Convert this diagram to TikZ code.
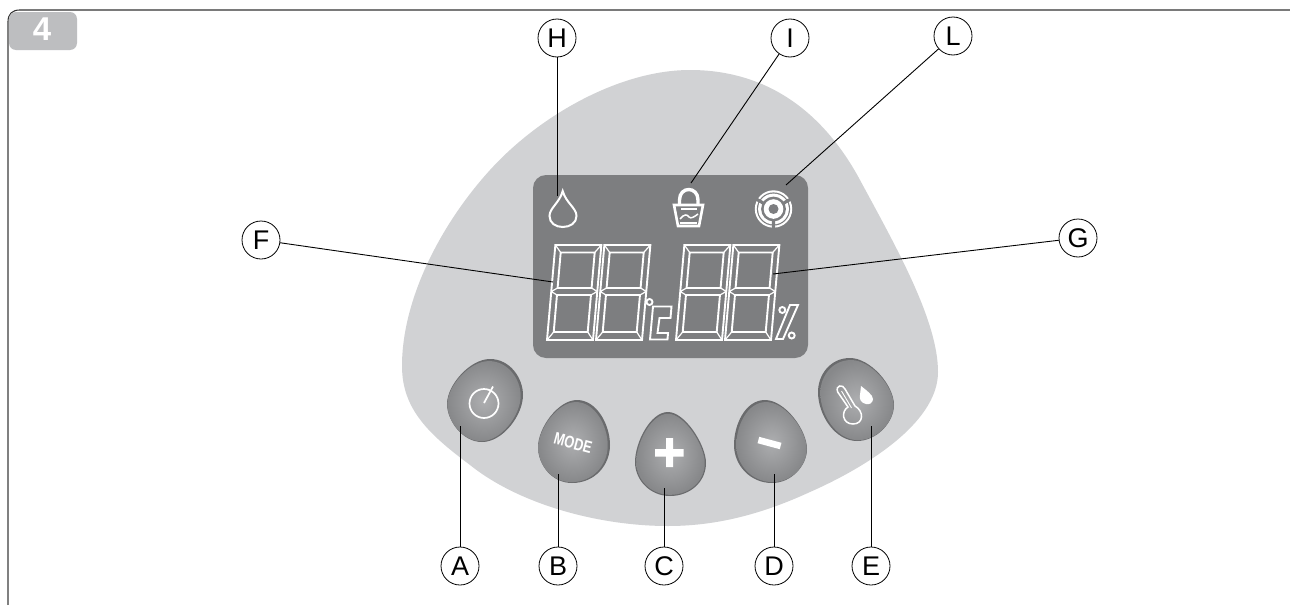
\documentclass[tikz,border=0pt]{standalone}
\usepackage{fontspec}
\setmainfont{Liberation Sans}
\newfontfamily\modefont[FakeStretch=0.76]{Liberation Sans}
\usetikzlibrary{calc}
\definecolor{panel}{HTML}{D1D2D4}
\definecolor{lcd}{HTML}{7D7E80}
\definecolor{tab}{HTML}{BDBEC0}
\definecolor{btnA}{HTML}{ADAEB0}
\definecolor{btnB}{HTML}{87888A}
\definecolor{btnS}{HTML}{6A6B6D}
\tikzset{
  x=1pt,y=-1pt,
  letter/.style={circle,draw=black,line width=0.8pt,fill=white,minimum size=38pt,inner sep=0pt,font=\fontsize{27}{27}\selectfont},
  leader/.style={draw=black,line width=0.9pt},
  seg/.style={draw=white,line width=1.9pt,line join=miter},
  icon/.style={draw=white,line width=2pt},
}
% #1 centre, #2 offset of the lit face, #3 outline
\newcommand{\btn}[3]{%
  \path[fill=btnS] #3 -- cycle;
  \begin{scope}[shift={(#2)},shift={(#1)},scale=.965,shift={($(0,0)-(#1)$)}]
    \path[shading=radial,inner color=btnA,outer color=btnB] #3 -- cycle;
  \end{scope}}
\newcommand{\digit}[2]{%
  \begin{scope}[shift={(#1,#2)},cm={1,0,0.088,1,(0,0)}]
    \draw[seg] (0,0) rectangle (46,-95);
    \draw[seg] (6,-87.5) rectangle (40,-52);
    \draw[seg] (6,-45) rectangle (40,-8);
    \draw[seg,line width=1.2pt] (0,-95) -- (6,-87.5) (46,-95) -- (40,-87.5) (0,0) -- (6,-8) (46,0) -- (40,-8);
    \draw[seg,line width=1.2pt] (0,-48.5) -- (6,-52) (46,-48.5) -- (40,-52) (0,-48.5) -- (6,-45) (46,-48.5) -- (40,-45);
  \end{scope}}
\begin{document}
\begin{tikzpicture}
\useasboundingbox (0,0) rectangle (1290,605);
\fill[white] (0,0) rectangle (1290,605);
% frame
\draw[line width=1.1pt,draw=black!80] (8,22) .. controls (8,14) and (12,10) .. (20,10) -- (1290,10);
\draw[line width=1.4pt,draw=black!50] (8,605) -- (8,22);
\fill[tab,rounded corners=7pt] (9,12) rectangle (77,50);
\node[font=\bfseries\fontsize{33}{33}\selectfont,text=white] (tabno) at (42,29) {4};
% panel
\fill[panel] (402,366) .. controls (402,300) and (440,225) .. (490,170)
  .. controls (540,115) and (620,70) .. (690,70)
  .. controls (770,70) and (825,115) .. (860,180)
  .. controls (895,245) and (938,320) .. (938,372)
  .. controls (938,425) and (860,470) .. (810,492)
  .. controls (760,515) and (715,526) .. (668,526)
  .. controls (600,526) and (520,505) .. (470,465)
  .. controls (430,435) and (402,410) .. (402,366) -- cycle;
% lcd
\fill[lcd,rounded corners=13pt] (533,175) rectangle (808,358);
% coordinates for leaders
\coordinate (pH) at (557,196);
\coordinate (pI) at (691,183);
\coordinate (pL) at (786,185);
\coordinate (pF) at (553,282);
\coordinate (pG) at (773,274);
\coordinate (pA) at (460,426);
\coordinate (pB) at (558,474);
\coordinate (pC) at (664,488);
\coordinate (pD) at (774,474);
\coordinate (pE) at (871,426);
% digits
\digit{547}{340}
\digit{596}{340}
\digit{676}{340}
\digit{725}{340}
% deg C
\draw[seg] (649.5,302) circle (3);
\draw[seg] (653,306.5) -- (671.5,306.5) -- (670.5,318) -- (659.5,318) -- (657.5,333) -- (668,333) -- (667.5,339.5) -- (650,339.5) -- cycle;
% percent
\draw[seg] (790,305) -- (798,305) -- (783,339) -- (776,339) -- cycle;
\draw[seg] (782.3,310) circle (3);
\draw[seg] (791.7,335.5) circle (3);
% drop
\draw[icon] (562.7,191) .. controls (566,203) and (576.5,208) .. (576.5,216) .. controls (576.5,223) and (570,227) .. (562.7,227) .. controls (555.5,227) and (549.5,223) .. (549.5,216) .. controls (549.5,208) and (559.5,203) .. (562.7,191) -- cycle;
% lock bucket
\draw[icon,line width=3.4pt] (679.5,204) -- (679.5,200) .. controls (679.5,186) and (698,186) .. (698,200) -- (698,204);
\draw[icon,line width=2.6pt] (674,205) -- (703,205) -- (699,226) -- (678,226) -- cycle;
\draw[icon,line width=1.5pt] (681,209) -- (697,209);
\draw[icon,line width=1.5pt] (680,219) .. controls (684,214) and (687,214) .. (689,217) .. controls (691,219) and (694,217) .. (698,214);
\draw[icon,line width=1.5pt] (680,223) -- (697,223);
% fan icon
\begin{scope}[shift={(773.5,209)}]
  \fill[white] (0,0) circle (18.7);
  \fill[lcd] (0,0) circle (16.6);
  \fill[white] (0,0) circle (15.4);
  \fill[lcd] (0,0) circle (12.4);
  \fill[white] (0,0) circle (9.8);
  \fill[lcd] (0,0) circle (5);
  \foreach \a in {90,210,330} {
    \fill[lcd] (\a:10.6) -- ++(\a+90:1.6) -- ++(\a:10) -- ++(\a-90:3.2) -- ++(\a+180:10) -- cycle;
  }
\end{scope}
% buttons
\btn{485,401}{-1,.6}{(490,359) .. controls (510,359) and (523,378) .. (523,395) .. controls (523,415) and (503,442) .. (482,442) .. controls (462,442) and (447,420) .. (447,404) .. controls (447,385) and (470,359) .. (490,359)}
\btn{574,441}{-1,.6}{(577,400) .. controls (597,400) and (610,425) .. (610,445) .. controls (610,465) and (595,483) .. (572,483) .. controls (552,483) and (538,465) .. (538,447) .. controls (538,428) and (558,400) .. (577,400)}
\btn{670,454}{0,.3}{(668,412) .. controls (685,412) and (706,445) .. (706,463) .. controls (706,482) and (690,496) .. (670,496) .. controls (650,496) and (635,480) .. (635,462) .. controls (635,443) and (650,412) .. (668,412)}
\btn{771,441}{1,.6}{(765,400) .. controls (745,400) and (734,425) .. (734,445) .. controls (734,465) and (750,483) .. (772,483) .. controls (792,483) and (807,465) .. (807,449) .. controls (807,430) and (785,400) .. (765,400)}
\btn{856,399}{1,.6}{(850,358) .. controls (830,358) and (818,375) .. (818,392) .. controls (818,415) and (835,441) .. (857,441) .. controls (877,441) and (894,422) .. (894,405) .. controls (894,385) and (870,358) .. (850,358)}
% button glyphs
\draw[white,line width=1.7pt] (484,403.5) circle (14.5);
\draw[white,line width=1.7pt] (484,403) -- (493,386.5);
\node[text=white,rotate=-15,font=\modefont\bfseries\fontsize{17}{17}\selectfont] (mode) at (573,443) {MODE};
\fill[white] (655,449) rectangle (683.5,456.5) (666,438) rectangle (673,467);
\fill[white,rotate around={-15:(769.5,443)}] (758,439.7) rectangle (781,446.3);
% thermometer and droplet
\draw[white,line width=1.5pt] (848,407) -- (837.7,392) .. controls (835,385) and (843,384) .. (845,389) -- (855,406) .. controls (864,411) and (864,424) .. (853,424) .. controls (842,424) and (841,411) .. (848,407) -- cycle;
\draw[white,line width=.9pt] (841.5,391) -- (851.5,408);
\fill[white] (861,386) .. controls (866,390) and (873,395) .. (873,399) .. controls (873,403) and (869,405) .. (866,404) .. controls (861,403) and (859,399) .. (860,395) -- cycle;
% letters
\node[letter] (H) at (557,38) {H};
\node[letter] (I) at (790,38) {I};
\node[letter] (L) at (953,36) {L};
\node[letter] (F) at (261,240) {F};
\node[letter] (G) at (1078,238) {G};
\node[letter] (A) at (460,566) {A};
\node[letter] (B) at (558,566) {B};
\node[letter] (C) at (664,566) {C};
\node[letter] (D) at (774,566) {D};
\node[letter] (E) at (871,566) {E};
% leaders
\draw[leader] (H) -- (pH);
\draw[leader] (I) -- (pI);
\draw[leader] (L) -- (pL);
\draw[leader] (F) -- (pF);
\draw[leader] (G) -- (pG);
\draw[leader] (A) -- (pA);
\draw[leader] (B) -- (pB);
\draw[leader] (C) -- (pC);
\draw[leader] (D) -- (pD);
\draw[leader] (E) -- (pE);
\end{tikzpicture}
\end{document}
